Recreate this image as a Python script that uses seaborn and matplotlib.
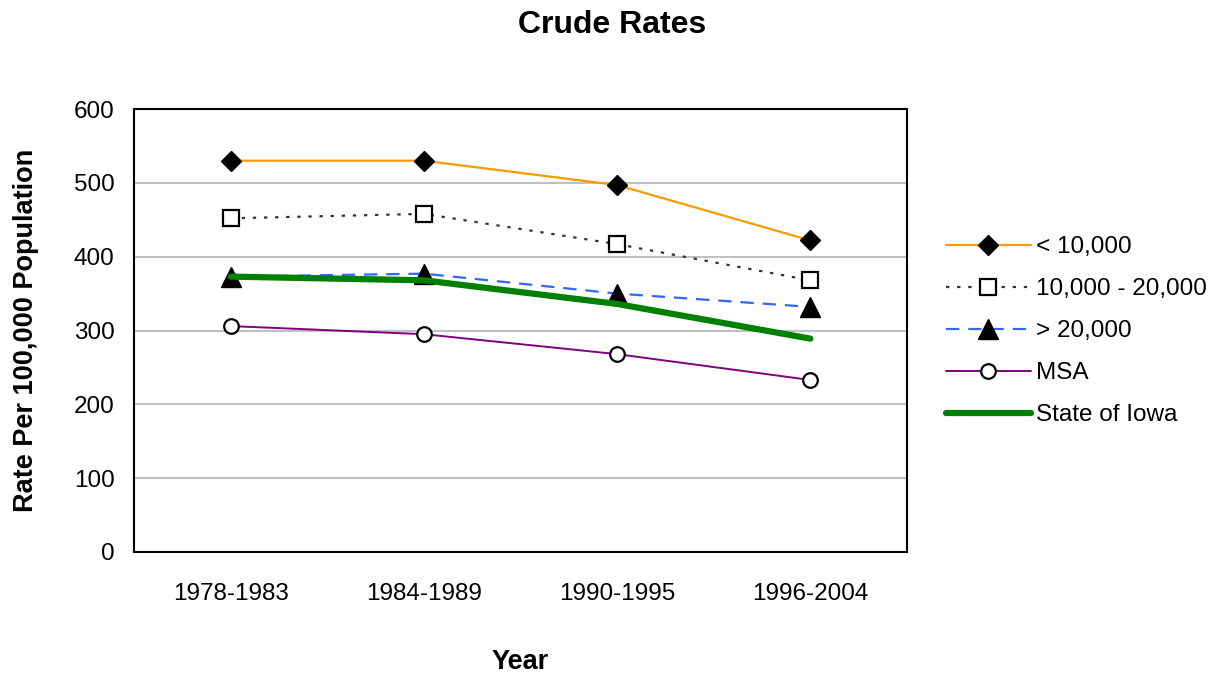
import numpy as np
import pandas as pd
import matplotlib
matplotlib.use('Agg')
import matplotlib.pyplot as plt
import seaborn as sns

# Data
years = ['1978-1983', '1984-1989', '1990-1995', '1996-2004']
under_10k = [530, 530, 497, 422]
mid_10k_20k = [452, 458, 417, 368]
over_20k = [373, 377, 350, 332]
msa = [306, 295, 268, 233]
state_iowa = [373, 368, 336, 289]

sns.set_style('white')
plt.rcParams['font.family'] = ['Liberation Sans', 'DejaVu Sans']
plt.rcParams['text.color'] = 'black'
plt.rcParams['axes.labelcolor'] = 'black'
plt.rcParams['xtick.color'] = 'black'
plt.rcParams['ytick.color'] = 'black'

fig = plt.figure(figsize=(12.13, 6.73), dpi=100)
ax = fig.add_axes([0.1105, 0.1798, 0.6372, 0.6582])

x = np.arange(len(years))
series = [
    ('< 10,000', under_10k, dict(color='#FF9900', lw=1.6, ls='-', marker='D', ms=10,
                                  mfc='black', mec='black', mew=1)),
    ('10,000 - 20,000', mid_10k_20k, dict(color='#333333', lw=1.6, ls=(0, (1.5, 3.5)), marker='s',
                                          ms=11, mfc='white', mec='black', mew=1.6)),
    ('> 20,000', over_20k, dict(color='#3366FF', lw=1.6, ls=(0, (6, 4)), marker='^', ms=14,
                                mfc='black', mec='black', mew=1)),
    ('MSA', msa, dict(color='#800080', lw=1.4, ls='-', marker='o', ms=10.5,
                      mfc='white', mec='black', mew=1.6)),
    ('State of Iowa', state_iowa, dict(color='#008000', lw=4.5, ls='-', marker=None)),
]

for name, vals, kw in series:
    df = pd.DataFrame({'x': x, 'y': vals})
    sns.lineplot(data=df, x='x', y='y', ax=ax, label=name, solid_capstyle='round', **kw)

ax.set_xlim(-0.5, 3.5)
ax.set_ylim(0, 600)
ax.set_yticks(range(0, 601, 100))
ax.set_xticks(x)
ax.set_xticklabels(years)
ax.set_xticks(np.arange(-0.5, 3.6, 1), minor=True)
ax.tick_params(axis='x', which='major', length=0, labelsize=17.5, pad=22)
ax.tick_params(axis='x', which='minor', length=7, direction='out', color='#808080', width=1.2)
ax.tick_params(axis='y', length=8, direction='out', color='#808080', width=1.2, labelsize=17.5, pad=6)
ax.yaxis.grid(True, color='#C0C0C0', lw=1.5)
ax.set_axisbelow(True)
for s in ax.spines.values():
    s.set_visible(True)
    s.set_color('black')
    s.set_linewidth(1.5)

ax.set_xlabel('Year', fontsize=19.5, fontweight='bold', labelpad=32)
ax.set_ylabel('Rate Per 100,000 Population', fontsize=19.5, fontweight='bold', labelpad=25)
fig.suptitle('Crude Rates', fontsize=23, fontweight='bold', x=0.505, y=0.985)

ax.get_legend().remove()
handles, labels = ax.get_legend_handles_labels()
fig.legend(handles, labels, loc='center left', bbox_to_anchor=(0.7615, 0.508), frameon=False,
           fontsize=17.5, handlelength=3.5, handletextpad=0.2, labelspacing=0.82)

fig.savefig('out.png', dpi=100)
